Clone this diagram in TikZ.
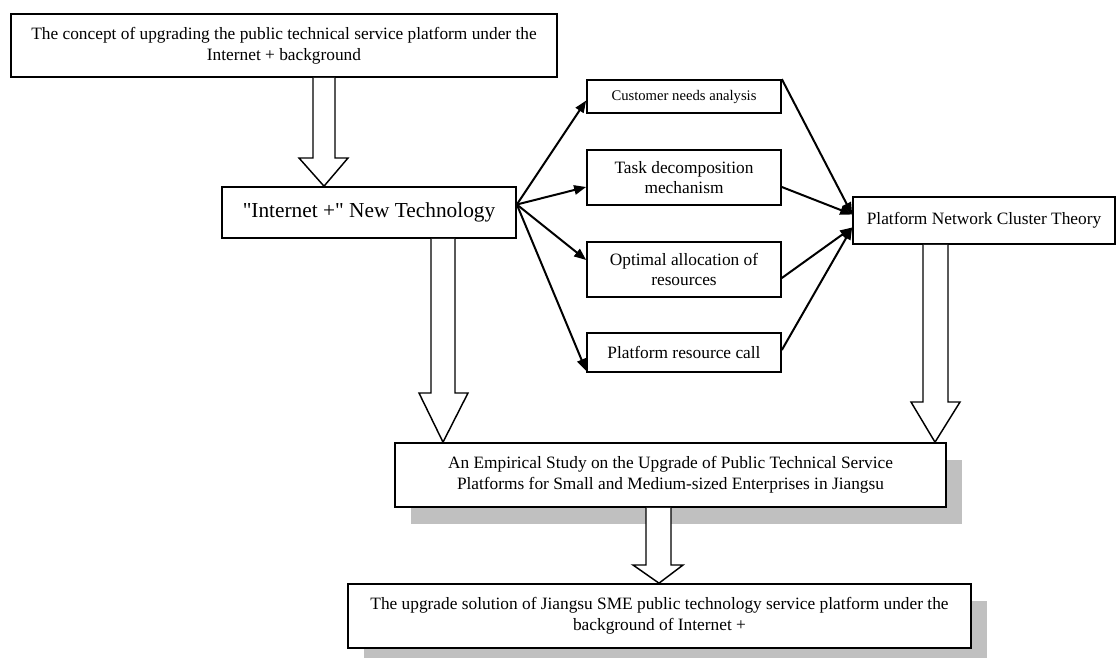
\documentclass[tikz,border=0pt]{standalone}
\usepackage{fontspec}
\setmainfont{Liberation Serif}[Ligatures=TeXOff]
\usetikzlibrary{arrows.meta,calc,shadows}
\definecolor{shadowgray}{HTML}{C0C0C0}
\begin{document}
\begin{tikzpicture}[x=0.75pt,y=-0.75pt,
  box/.style={draw,line width=1.25pt,fill=white,inner sep=0pt,align=center,
    font=\fontsize{13}{15.5}\selectfont},
  wh/.style 2 args={minimum width=#1*0.75pt,minimum height=#2*0.75pt},
  shadowed/.style={general shadow={fill=shadowgray,shadow xshift=12pt,shadow yshift=-12.5pt}},
  bar/.style={draw,line width=1.1pt,fill=white,line join=miter},
  conn/.style={line width=1.5pt,-{Triangle[length=9pt,width=7pt]}}]
\useasboundingbox (0,0) rectangle (1117,657);

\node[box,wh={546}{63}] (tb) at (284,45.5)
  {The concept of upgrading the public technical service platform under the\\Internet + background};
\node[box,wh={294}{51},font=\fontsize{16}{19}\selectfont] (it) at (369,212.5)
  {"Internet +" New Technology};
\node[box,wh={194}{33},font=\fontsize{11}{13}\selectfont] (cn) at (684,96.5)
  {Customer needs analysis};
\node[box,wh={194}{55}] (td) at (684,177.5)
  {Task decomposition\\mechanism};
\node[box,wh={194}{55}] (oa) at (684,269.5)
  {Optimal allocation of\\resources};
\node[box,wh={194}{39}] (pr) at (684,352.5)
  {Platform resource call};
\node[box,wh={262}{47}] (pn) at (984,220.5)
  {Platform Network Cluster Theory};
\node[box,shadowed,wh={551}{64}] (es) at (670.5,475)
  {An Empirical Study on the Upgrade of Public Technical Service\\Platforms for Small and Medium-sized Enterprises in Jiangsu};
\node[box,shadowed,wh={623}{64}] (bs) at (659.5,616)
  {The upgrade solution of Jiangsu SME public technology service platform under the\\background of Internet +};

% block arrows
\draw[bar] (tb.south -| 313,0) -- (313,158) -- (299,158) -- (it.north -| 324,0)
  -- (348,158) -- (335,158) -- (tb.south -| 335,0);
\draw[bar] (it.south -| 431,0) -- (431,393) -- (419,393) -- (es.north -| 443,0)
  -- (468,393) -- (455,393) -- (it.south -| 455,0);
\draw[bar] (pn.south -| 923,0) -- (923,402) -- (911,402) -- (es.north -| 935,0)
  -- (960,402) -- (948,402) -- (pn.south -| 948,0);
\draw[bar] (es.south -| 646,0) -- (646,565) -- (633,565) -- (bs.north -| 659,0)
  -- (683,565) -- (671,565) -- (es.south -| 671,0);

% thin arrows
\coordinate (src) at ($(it.east)+(0,-8)$);
\draw[conn] (src) -- ($(cn.west)+(0,4)$);
\draw[conn] (src) -- ($(td.west)+(0,9.5)$);
\draw[conn] (src) -- ($(oa.west)+(0,-9.5)$);
\draw[conn] (src) -- ($(pr.south west)+(0,-2)$);
\draw[conn] (cn.north east) -- ($(pn.west)+(0,-6)$);
\draw[conn] ($(td.east)+(0,9.5)$) -- ($(pn.west)+(0,-6)$);
\draw[conn] ($(oa.east)+(0,8.5)$) -- ($(pn.west)+(0,7)$);
\draw[conn] ($(pr.east)+(0,-2.5)$) -- ($(pn.west)+(0,7)$);
\end{tikzpicture}
\end{document}
